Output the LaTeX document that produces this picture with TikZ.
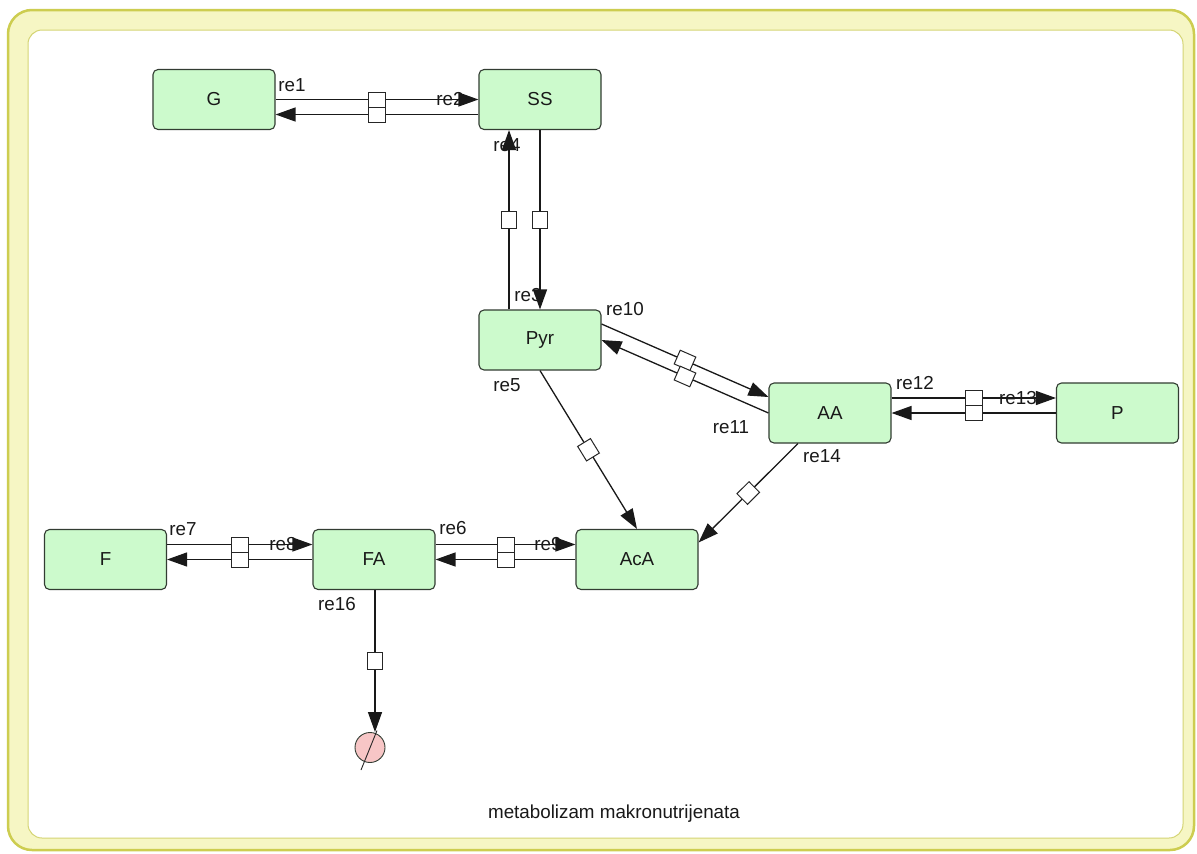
\documentclass[tikz,border=0pt]{standalone}
\usepackage{fontspec}
\setmainfont{Liberation Sans}
\usetikzlibrary{arrows.meta}
\definecolor{nodefill}{RGB}{204,250,204}
\definecolor{nodeline}{RGB}{50,60,50}
\definecolor{frameout}{RGB}{205,205,80}
\definecolor{frameband}{RGB}{246,246,196}
\definecolor{framein}{RGB}{212,212,115}
\definecolor{degfill}{RGB}{247,198,198}
\definecolor{txt}{RGB}{25,25,25}
\begin{document}
\begin{tikzpicture}[x=1pt,y=-1pt,
  species/.style={draw=nodeline, fill=nodefill, rounded corners=5pt, minimum width=122pt, minimum height=60pt, inner sep=0pt, font=\fontsize{18.8}{21}\selectfont, text=txt, line width=1.1pt},
  rxn/.style={line width=1.3pt, draw=black!90},
  arr/.style={-{Triangle[length=20pt,width=14pt]}},
  pbox/.style={draw=black!85, fill=white, minimum width=17pt, minimum height=15pt, inner sep=0pt, sloped, line width=1pt},
  lbl/.style={font=\fontsize{18.8}{21}\selectfont, text=txt, inner sep=0pt, anchor=base},
  degr/.style={circle, draw=nodeline, fill=degfill, minimum size=30pt, inner sep=0pt, line width=0.9pt}
]
\useasboundingbox (0,0) rectangle (1197,854);
\fill[white] (0,0) rectangle (1197,854);
\draw[draw=frameout, fill=frameband, line width=2.5pt, rounded corners=24pt] (8,10) rectangle (1194,850);
\draw[draw=framein, fill=white, line width=1pt, rounded corners=14pt] (28,30) rectangle (1183,838);

% species
\node[species] (G) at (214,99.5) {G};
\node[species] (SS) at (540,99.5) {SS};
\node[species] (Pyr) at (540,340) {Pyr};
\node[species] (AA) at (830,413) {AA};
\node[species] (P) at (1117.5,413) {P};
\node[species] (F) at (105.5,559.5) {F};
\node[species] (FA) at (374,559.5) {FA};
\node[species] (AcA) at (637,559.5) {AcA};
\node[degr] (deg) at (370,747.5) {};

% labels
\node[lbl] (l1) at (292,91) {re1};
\node[lbl] (l2) at (450,105) {re2};
\node[lbl] (l4) at (507,151) {re4};
\node[lbl] (l3) at (528,301) {re3};
\node[lbl] (l10) at (625,315) {re10};
\node[lbl] (l5) at (507,391) {re5};
\node[lbl] (l11) at (731,433) {re11};
\node[lbl] (l12) at (915,389) {re12};
\node[lbl] (l13) at (1018,404) {re13};
\node[lbl] (l14) at (822,462) {re14};
\node[lbl] (l7) at (183,535) {re7};
\node[lbl] (l8) at (283,550) {re8};
\node[lbl] (l16) at (337,610) {re16};
\node[lbl] (l6) at (453,534) {re6};
\node[lbl] (l9) at (548,550) {re9};
\node[lbl] (cap) at (614,818) {metabolizam makronutrijenata};

% reactions
\draw[rxn,arr] (G.east) -- node[pbox]{} (SS.west);
\draw[rxn,arr] ([shift={(0,15)}]SS.west) -- node[pbox]{} ([shift={(0,15)}]G.east);

\draw[rxn,arr] ([shift={(-31,0)}]Pyr.north) -- node[pbox]{} ([shift={(-31,0)}]SS.south);
\draw[rxn,arr] (SS.south) -- node[pbox]{} (Pyr.north);

\draw[rxn,arr] ([shift={(0,-16)}]Pyr.east) -- node[pbox]{} ([shift={(0,-16)}]AA.west);
\draw[rxn,arr] (AA.west) -- node[pbox]{} (Pyr.east);

\draw[rxn,arr] ([shift={(0,-15)}]AA.east) -- node[pbox]{} ([shift={(0,-15)}]P.west);
\draw[rxn,arr] (P.west) -- node[pbox]{} (AA.east);

\draw[rxn,arr] (Pyr.south) -- node[pbox]{} (AcA.north);
\draw[rxn,arr] ([shift={(-32,0)}]AA.south) -- node[pbox]{} ([shift={(0,-17)}]AcA.east);

\draw[rxn,arr] ([shift={(0,-15)}]FA.east) -- node[pbox]{} ([shift={(0,-15)}]AcA.west);
\draw[rxn,arr] (AcA.west) -- node[pbox]{} (FA.east);

\draw[rxn,arr] ([shift={(0,-15)}]F.east) -- node[pbox]{} ([shift={(0,-15)}]FA.west);
\draw[rxn,arr] (FA.west) -- node[pbox]{} (F.east);

\draw[rxn,arr] ([shift={(1,0)}]FA.south) -- node[pbox]{} ([shift={(5,0)}]deg.north);
\draw[line width=0.9pt, draw=black!85] ([shift={(-9,22.5)}]deg.center) -- ([shift={(7,-17)}]deg.center);
\end{tikzpicture}
\end{document}
